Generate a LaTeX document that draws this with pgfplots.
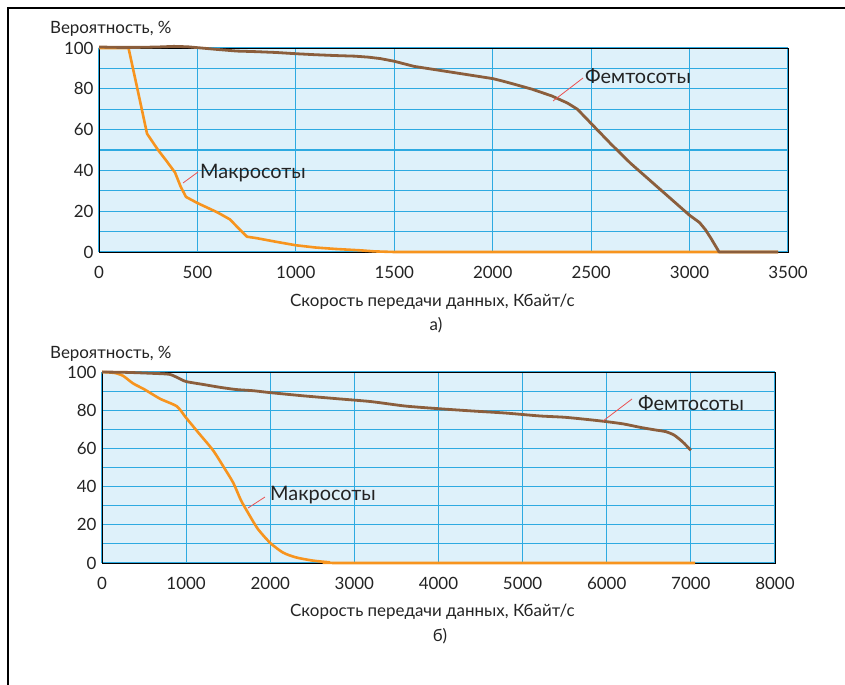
\documentclass[border=0pt]{standalone}
\usepackage{fontspec}
\setmainfont{Lato}
\usepackage{pgfplots}
\pgfplotsset{compat=1.18}
\definecolor{bgblue}{RGB}{222,241,250}
\definecolor{gridblue}{RGB}{45,170,225}
\definecolor{orangeL}{RGB}{247,148,30}
\definecolor{brownL}{RGB}{139,94,60}
\definecolor{leader}{RGB}{235,80,80}
\definecolor{txt}{RGB}{35,35,35}
\pgfplotsset{mystyle/.style={
  scale only axis,
  axis background/.style={fill=bgblue},
  grid=both,
  major grid style={gridblue, line width=1.1pt},
  minor grid style={gridblue, line width=1.1pt},
  ymin=0, ymax=100, ytick={0,20,...,100}, minor ytick={10,30,50,70,90},
  tick style={draw=none},
  axis line style={black, line width=0.9pt},
  ticklabel style={font=\fontsize{17}{20}\selectfont, text=txt},
  xticklabel style={yshift=-11bp},
  yticklabel style={xshift=-2bp},
  /pgf/number format/assume math mode=true,
  /pgf/number format/1000 sep={},
  clip=false,
  anchor=south west,
}}
\begin{document}
\begin{tikzpicture}
\useasboundingbox (0bp,0bp) rectangle (845bp,-685bp);
\draw[black, line width=1.2pt] (8bp,-690bp) -- (8bp,-8bp) -- (850bp,-8bp);
% top chart
\begin{axis}[mystyle, at={(99bp,-252bp)}, width=689bp, height=204bp,
  xmin=0, xmax=3500, xtick={0,500,...,3500}]
\addplot[orangeL, line width=2.6bp, line join=round] coordinates {
(0,100)(150,100)(195,80)(244,58)(300,50)(340,45)(386,39)(415,32)(442,27)(500,24)(600,19.5)(665,16)(700,12.5)(752,7.5)(800,6.8)(900,5)(1000,3.3)(1100,2.2)(1200,1.5)(1330,0.8)(1400,0.3)(1500,0)(3450,0)};
\addplot[brownL, line width=2.8bp, line join=round] coordinates {
(0,100.5)(100,100.3)(200,100.3)(300,100.5)(380,100.8)(450,100.6)(520,100)(600,99.3)(700,98.5)(800,98.2)(900,97.8)(1000,97.2)(1100,96.7)(1200,96.3)(1300,96)(1370,95.5)(1430,94.8)(1500,93.5)(1600,91)(1700,89.5)(1800,88)(1900,86.5)(2000,85)(2050,83.8)(2100,82.5)(2200,79.8)(2300,76.5)(2380,73)(2430,70)(2500,63)(2600,53)(2700,43.5)(2800,35)(2900,26.5)(3000,18)(3050,14.5)(3080,11)(3110,6.5)(3150,0)(3450,0)};
\end{axis}
% bottom chart
\begin{axis}[mystyle, at={(102bp,-563bp)}, width=673bp, height=191bp,
  xmin=0, xmax=8000, xtick={0,1000,...,8000}]
\addplot[orangeL, line width=2.6bp, smooth, tension=0.4] coordinates {
(0,100)(150,99.5)(250,98)(370,94)(500,91)(690,86)(890,82)(1000,76)(1150,68)(1320,59)(1450,50)(1560,42)(1650,33)(1720,27.5)(1850,18)(2000,10.5)(2150,5.5)(2300,3)(2500,1.3)(2700,0.4)(2900,0)(7050,0)};
\addplot[brownL, line width=2.8bp, smooth, tension=0.4] coordinates {
(0,100)(300,99.8)(600,99.3)(800,98.8)(900,97)(1000,95)(1200,93.5)(1400,92)(1600,90.8)(1800,90.2)(2000,89.2)(2400,87.5)(2800,86)(3200,84.5)(3600,82.2)(4000,80.8)(4400,79.6)(4800,78.5)(5200,77)(5500,76.3)(5800,75)(6000,74)(6200,72.8)(6400,71)(6600,69.5)(6700,68.8)(6800,67)(6900,63.5)(7000,59)};
\end{axis}
\begin{scope}[font=\fontsize{17}{20}\selectfont, text=txt]
\node[anchor=base west, inner sep=0] at (50bp,-33bp) {Вероятность, \%};
\node[anchor=base west, inner sep=0] at (50bp,-358bp) {Вероятность, \%};
\node[anchor=base west, inner sep=0] at (290bp,-306bp) {Скорость передачи данных, Кбайт/с};
\node[anchor=base west, inner sep=0] at (290bp,-616bp) {Скорость передачи данных, Кбайт/с};
\node[anchor=base, inner sep=0] at (436bp,-330bp) {а)};
\node[anchor=base, inner sep=0] at (440bp,-641bp) {б)};
\end{scope}
\begin{scope}[font=\fontsize{20}{24}\selectfont, text=txt]
\node[anchor=base west, inner sep=0] at (200bp,-178bp) {Макросоты};
\node[anchor=base west, inner sep=0] at (585bp,-83bp) {Фемтосоты};
\node[anchor=base west, inner sep=0] at (270bp,-500bp) {Макросоты};
\node[anchor=base west, inner sep=0] at (638bp,-410bp) {Фемтосоты};
\end{scope}
\draw[leader, line width=0.8pt] (183bp,-183bp) -- (198bp,-172bp);
\draw[leader, line width=0.8pt] (553bp,-101bp) -- (583bp,-78bp);
\draw[leader, line width=0.8pt] (248bp,-508bp) -- (265bp,-497bp);
\draw[leader, line width=0.8pt] (603bp,-421bp) -- (632bp,-399bp);
\end{tikzpicture}
\end{document}
